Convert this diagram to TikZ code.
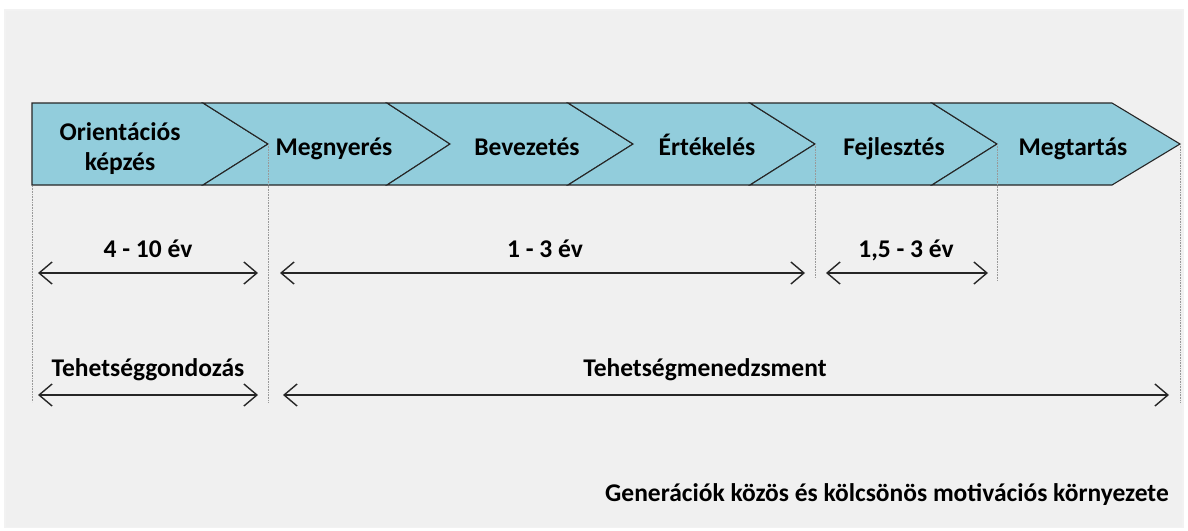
\documentclass[tikz,border=0pt]{standalone}
\usepackage{fontspec}
\setmainfont{Carlito}
\usetikzlibrary{arrows.meta}
\definecolor{bandblue}{HTML}{92CDDC}
\definecolor{panelgray}{HTML}{F0F0F0}
\definecolor{edge}{HTML}{262626}
\tikzset{
  seg/.style={fill=bandblue, draw=edge, line width=1.1pt, line join=miter},
  lbl/.style={font=\bfseries\fontsize{25.5}{30}\selectfont, text=black, align=center, inner sep=0pt, anchor=base},
  guide/.style={draw=gray!80, line width=0.7pt, dash pattern=on 0.8pt off 0.8pt},
  barb/.tip={Straight Barb[length=13pt,width=22pt,line width=1.4pt]},
  span/.style={draw=edge, line width=1.4pt, barb-barb}
}
\begin{document}
\begin{tikzpicture}[x=1pt,y=-1pt]
\useasboundingbox (0,0) rectangle (1188,530);
\fill[white] (0,0) rectangle (1188,530);
\fill[gray!10] (4,9) rectangle (1184,528);
\fill[panelgray] (6,11) rectangle (1182,527);
% band segments
\path[seg] (32,103) -- (203,103) -- (268,144) -- (203,185) -- (32,185) -- cycle;
\path[seg] (203,103) -- (387,103) -- (450,144) -- (387,185) -- (203,185) -- (268,144) -- cycle;
\path[seg] (387,103) -- (568,103) -- (633,144) -- (568,185) -- (387,185) -- (450,144) -- cycle;
\path[seg] (568,103) -- (750,103) -- (815,144) -- (750,185) -- (568,185) -- (633,144) -- cycle;
\path[seg] (750,103) -- (932,103) -- (997,144) -- (932,185) -- (750,185) -- (815,144) -- cycle;
\path[seg] (932,103) -- (1112,103) -- (1180,144) -- (1112,185) -- (932,185) -- (997,144) -- cycle;
% labels
\node[lbl] (orient) at (120,140) {Orientációs};
\node[lbl] (kepz) at (120,170) {képzés};
\node[lbl] (megny) at (334,155) {Megnyerés};
\node[lbl] (bevez) at (527,155) {Bevezetés};
\node[lbl] (ertek) at (707,155) {Értékelés};
\node[lbl] (fejl) at (894,155) {Fejlesztés};
\node[lbl] (megt) at (1073,155) {Megtartás};
% guides
\coordinate (g1a) at (32,186); \coordinate (g1b) at (32,402);
\coordinate (g2a) at (268,144); \coordinate (g2b) at (268,402);
\coordinate (g3a) at (815,144); \coordinate (g3b) at (815,277);
\coordinate (g4a) at (997,144); \coordinate (g4b) at (997,281);
\coordinate (g5a) at (1180,144); \coordinate (g5b) at (1180,402);
\draw[guide] (g1a) -- (g1b);
\draw[guide] (g2a) -- (g2b);
\draw[guide] (g3a) -- (g3b);
\draw[guide] (g4a) -- (g4b);
\draw[guide] (g5a) -- (g5b);
% spans
\node[lbl] (t1) at (148,257) {4 - 10 év};
\node[lbl] (t2) at (545,257) {1 - 3 év};
\node[lbl] (t3) at (906,257) {1,5 - 3 év};
\coordinate (a1l) at (38,273); \coordinate (a1r) at (258,273);
\coordinate (a2l) at (280,273); \coordinate (a2r) at (805,273);
\coordinate (a3l) at (826,273); \coordinate (a3r) at (988,273);
\draw[span] (a1l) -- (a1r);
\draw[span] (a2l) -- (a2r);
\draw[span] (a3l) -- (a3r);
\node[lbl] (t4) at (148,376) {Tehetséggondozás};
\node[lbl] (t5) at (705,376) {Tehetségmenedzsment};
\coordinate (b1l) at (38,395); \coordinate (b1r) at (258,395);
\coordinate (b2l) at (283,395); \coordinate (b2r) at (1169,395);
\draw[span] (b1l) -- (b1r);
\draw[span] (b2l) -- (b2r);
\node[lbl, anchor=base east] (env) at (1169,501) {Generációk közös és kölcsönös motivációs környezete};
\end{tikzpicture}
\end{document}
